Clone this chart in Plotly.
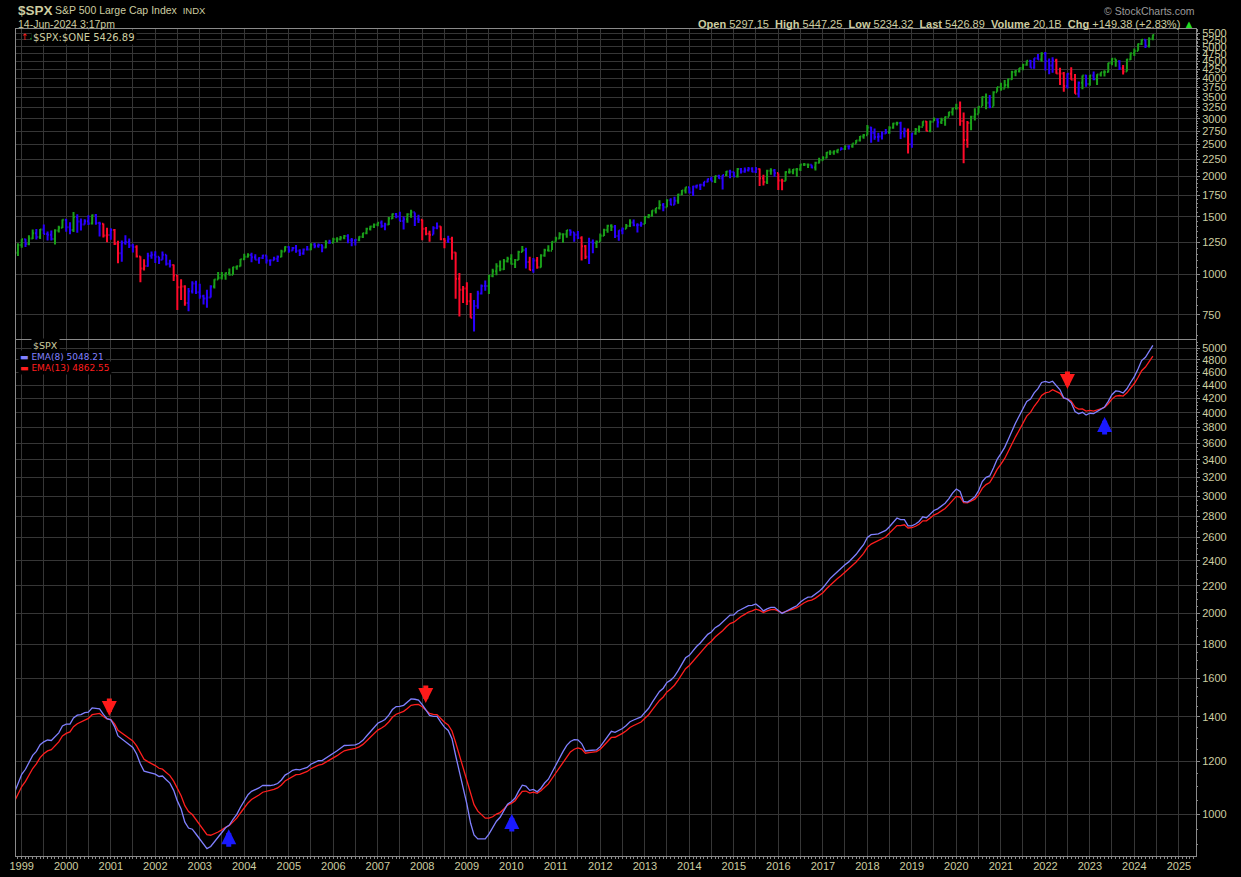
import numpy as np
import pandas as pd
import plotly.graph_objects as go

# ---------------- data (monthly S&P 500) ----------------
start_month = "1998-12-01"
warmup_start = "1996-01-01"
# closes before the visible window, only used to seed the moving averages
warmup_close = [636.0, 640.4, 645.5, 654.2, 669.1, 670.6, 640.0, 652.0, 687.3, 705.3, 757.0, 740.7,
                786.2, 790.8, 757.1, 801.3, 848.3, 885.1, 954.3, 899.5, 947.3, 914.6, 955.4, 970.4,
                980.3, 1049.3, 1101.8, 1111.8, 1090.8, 1133.8, 1120.7, 957.3, 1017.0, 1098.7, 1163.6]

open_ = [1163.6,
         1229.2, 1279.6, 1238.3, 1286.4, 1335.2, 1301.8, 1372.7, 1328.7, 1320.4, 1282.7, 1362.9, 1388.9,
         1469.3, 1394.5, 1366.4, 1498.6, 1452.4, 1420.6, 1454.6, 1430.8, 1517.7, 1436.5, 1429.4, 1315.2,
         1320.3, 1366.0, 1239.9, 1160.3, 1249.5, 1255.8, 1224.4, 1211.2, 1133.6, 1040.9, 1059.8, 1139.5,
         1148.1, 1130.2, 1106.7, 1147.4, 1076.9, 1067.1, 989.8, 911.6, 916.1, 815.3, 885.8, 936.3,
         879.8, 855.7, 841.2, 848.2, 916.9, 963.6, 974.5, 990.3, 1008.0, 996.0, 1050.7, 1058.2,
         1111.9, 1131.1, 1144.9, 1126.2, 1107.3, 1120.7, 1140.8, 1101.7, 1104.2, 1114.6, 1130.2, 1173.8,
         1211.9, 1181.3, 1203.6, 1180.6, 1156.9, 1191.5, 1191.3, 1234.2, 1220.3, 1228.8, 1207.0, 1249.5,
         1248.3, 1280.1, 1280.7, 1294.9, 1310.6, 1270.1, 1270.2, 1276.7, 1303.8, 1335.9, 1377.9, 1400.6,
         1418.3, 1438.2, 1406.8, 1420.9, 1482.4, 1530.6, 1503.4, 1455.3, 1474.0, 1526.8, 1549.4, 1481.1,
         1468.4, 1378.6, 1330.6, 1322.7, 1385.6, 1400.4, 1280.0, 1267.4, 1282.8, 1166.4, 968.8, 896.2,
         903.3, 825.9, 735.1, 797.9, 872.8, 919.1, 919.3, 987.5, 1020.6, 1057.1, 1036.2, 1095.6,
         1115.1, 1073.9, 1104.5, 1169.4, 1186.7, 1089.4, 1030.7, 1101.6, 1049.3, 1141.2, 1183.3, 1180.6,
         1257.6, 1286.1, 1327.2, 1325.8, 1363.6, 1345.2, 1320.6, 1292.3, 1218.9, 1131.4, 1253.3, 1247.0,
         1257.6, 1312.4, 1365.7, 1408.5, 1397.9, 1310.3, 1362.2, 1379.3, 1406.6, 1440.7, 1412.2, 1416.2,
         1426.2, 1498.1, 1514.7, 1569.2, 1597.6, 1630.7, 1606.3, 1685.7, 1633.0, 1681.6, 1756.5, 1805.8,
         1848.4, 1782.6, 1859.5, 1872.3, 1884.0, 1923.6, 1960.2, 1930.7, 2003.4, 1972.3, 2018.1, 2067.6,
         2058.9, 1995.0, 2104.5, 2067.9, 2085.5, 2107.4, 2063.1, 2103.8, 1972.2, 1920.0, 2079.4, 2080.4,
         2043.9, 1940.2, 1932.2, 2059.7, 2065.3, 2097.0, 2098.9, 2173.6, 2171.0, 2168.3, 2126.2, 2198.8,
         2238.8, 2278.9, 2363.6, 2362.7, 2384.2, 2411.8, 2423.4, 2470.3, 2471.7, 2519.4, 2575.3, 2647.6,
         2673.6, 2823.8, 2713.8, 2640.9, 2648.1, 2705.3, 2718.4, 2816.3, 2901.5, 2914.0, 2711.7, 2760.2,
         2506.9, 2704.1, 2784.5, 2834.4, 2945.8, 2752.1, 2941.8, 2980.4, 2926.5, 2976.7, 3037.6, 3141.0,
         3230.8, 3225.5, 2954.2, 2584.6, 2912.4, 3044.3, 3100.3, 3271.1, 3500.3, 3363.0, 3270.0, 3621.6,
         3756.1, 3714.2, 3811.2, 3972.9, 4181.2, 4204.1, 4297.5, 4395.3, 4522.7, 4307.5, 4605.4, 4567.0,
         4766.2, 4515.6, 4373.9, 4530.4, 4131.9, 4132.2, 3785.4, 4130.3, 3955.0, 3585.6, 3872.0, 4080.1,
         3839.5, 4076.6, 3970.2, 4109.3, 4169.5, 4179.8, 4450.4, 4589.0, 4507.7, 4288.1, 4193.8, 4567.8,
         4769.8, 4845.7, 5096.3, 5254.4, 5035.7, 5297.15]

high = [1244.9,
        1281.0, 1283.8, 1316.2, 1371.6, 1376.0, 1375.8, 1420.3, 1352.0, 1361.3, 1373.2, 1408.0, 1473.1,
        1478.0, 1444.6, 1552.9, 1527.2, 1481.5, 1474.6, 1517.3, 1525.2, 1530.1, 1449.0, 1431.8, 1389.1,
        1383.4, 1376.4, 1267.4, 1269.3, 1315.9, 1286.6, 1239.8, 1226.3, 1135.5, 1110.6, 1163.4, 1173.0,
        1176.6, 1131.3, 1173.0, 1147.8, 1106.6, 1070.7, 994.5, 965.0, 924.0, 907.4, 951.6, 954.3,
        935.1, 864.6, 895.9, 924.2, 965.4, 1015.3, 1015.4, 1011.0, 1040.3, 1053.8, 1063.6, 1112.6,
        1155.4, 1159.0, 1163.2, 1150.6, 1127.7, 1146.3, 1140.8, 1108.6, 1131.5, 1142.1, 1188.5, 1217.9,
        1217.8, 1212.4, 1229.1, 1191.9, 1199.6, 1219.6, 1245.2, 1245.9, 1243.1, 1233.3, 1270.6, 1275.8,
        1294.9, 1297.6, 1310.9, 1318.2, 1326.7, 1290.7, 1280.4, 1306.7, 1340.3, 1389.5, 1407.9, 1431.8,
        1441.6, 1461.6, 1438.9, 1498.0, 1535.6, 1540.6, 1555.9, 1503.9, 1538.7, 1576.1, 1545.8, 1523.6,
        1471.8, 1396.0, 1359.7, 1404.6, 1440.2, 1404.1, 1292.2, 1313.2, 1303.0, 1167.0, 1007.5, 918.9,
        943.9, 875.0, 833.0, 888.7, 930.2, 956.2, 996.7, 1039.5, 1080.2, 1101.4, 1113.7, 1130.4,
        1150.5, 1112.4, 1180.2, 1219.8, 1205.1, 1131.2, 1121.0, 1129.2, 1150.3, 1196.1, 1227.1, 1262.6,
        1302.7, 1344.1, 1332.3, 1366.6, 1370.6, 1345.2, 1356.5, 1307.4, 1229.3, 1292.7, 1277.6, 1269.4,
        1333.5, 1378.0, 1419.2, 1422.4, 1415.3, 1363.5, 1391.7, 1426.7, 1474.5, 1471.0, 1434.3, 1448.0,
        1509.9, 1530.9, 1570.3, 1597.6, 1687.2, 1654.2, 1698.8, 1709.7, 1729.9, 1765.0, 1813.6, 1849.4,
        1850.8, 1867.9, 1884.0, 1897.3, 1924.0, 1968.2, 1991.4, 2005.0, 2019.3, 2018.2, 2075.8, 2093.6,
        2064.4, 2119.6, 2117.5, 2125.9, 2134.7, 2129.9, 2132.8, 2112.7, 2020.9, 2094.3, 2116.5, 2104.3,
        2038.2, 1963.0, 2072.2, 2111.1, 2103.5, 2120.6, 2177.1, 2193.8, 2187.9, 2169.6, 2214.1, 2277.5,
        2301.0, 2371.5, 2401.0, 2398.2, 2418.7, 2453.8, 2484.0, 2490.9, 2519.4, 2583.0, 2657.7, 2695.0,
        2872.9, 2836.0, 2801.9, 2717.5, 2742.2, 2791.5, 2848.0, 2916.5, 2940.9, 2939.9, 2815.2, 2800.2,
        2709.0, 2813.5, 2860.3, 2949.5, 2954.1, 2964.2, 3028.0, 3013.6, 3022.0, 3050.1, 3154.3, 3247.9,
        3337.8, 3393.5, 3136.7, 2954.9, 3068.7, 3233.1, 3280.0, 3514.8, 3588.1, 3549.9, 3646.0, 3760.2,
        3870.9, 3950.4, 3994.4, 4218.8, 4238.0, 4302.4, 4430.0, 4537.4, 4545.9, 4608.1, 4743.8, 4808.9,
        4818.6, 4595.3, 4637.3, 4593.5, 4307.7, 4177.5, 4140.2, 4325.3, 4119.3, 3905.4, 4080.1, 4101.0,
        4094.2, 4195.4, 4110.8, 4170.1, 4231.1, 4458.5, 4607.1, 4584.6, 4541.3, 4393.6, 4587.6, 4793.3,
        4931.1, 5111.1, 5264.9, 5264.0, 5341.9, 5447.25]

low = [1136.9,
       1205.5, 1211.9, 1226.2, 1282.6, 1277.3, 1281.4, 1328.5, 1268.0, 1268.4, 1233.7, 1343.1, 1387.4,
       1350.1, 1325.1, 1346.6, 1339.4, 1361.1, 1420.4, 1416.0, 1421.7, 1419.4, 1305.8, 1296.0, 1254.1,
       1274.6, 1228.9, 1081.2, 1092.0, 1232.0, 1203.0, 1165.5, 1124.9, 944.8, 1026.8, 1054.3, 1114.9,
       1081.7, 1074.4, 1106.7, 1063.5, 1049.0, 952.9, 775.7, 833.4, 800.2, 768.6, 872.1, 869.5,
       840.3, 806.3, 788.9, 847.9, 902.8, 963.4, 962.1, 960.8, 990.4, 995.0, 1031.2, 1055.5,
       1105.1, 1124.4, 1087.2, 1107.2, 1076.3, 1113.3, 1078.8, 1060.7, 1101.3, 1090.2, 1127.6, 1173.4,
       1163.8, 1181.0, 1163.7, 1136.2, 1146.2, 1188.3, 1183.6, 1201.1, 1205.4, 1168.2, 1201.1, 1246.6,
       1245.7, 1253.6, 1268.4, 1280.7, 1245.3, 1219.3, 1224.5, 1261.3, 1290.9, 1327.1, 1361.0, 1385.9,
       1404.0, 1389.4, 1364.0, 1416.4, 1476.7, 1484.2, 1454.3, 1370.6, 1439.3, 1489.6, 1406.1, 1435.7,
       1270.1, 1316.8, 1257.0, 1324.4, 1373.1, 1272.0, 1200.4, 1247.5, 1106.4, 839.8, 741.0, 815.7,
       804.3, 734.5, 666.8, 783.3, 866.1, 888.9, 869.3, 978.5, 992.3, 1020.2, 1029.4, 1085.9,
       1071.6, 1044.5, 1105.4, 1170.7, 1040.8, 1028.3, 1010.9, 1039.7, 1047.6, 1131.9, 1173.0, 1186.6,
       1257.6, 1282.9, 1249.1, 1294.7, 1311.8, 1258.1, 1282.9, 1101.5, 1114.2, 1074.8, 1158.7, 1202.4,
       1258.9, 1310.5, 1340.0, 1357.4, 1292.0, 1266.7, 1325.4, 1378.5, 1396.6, 1403.3, 1343.4, 1398.1,
       1426.2, 1485.0, 1501.5, 1536.0, 1581.3, 1560.3, 1604.6, 1627.5, 1633.4, 1646.5, 1746.2, 1768.0,
       1770.5, 1737.9, 1834.4, 1814.4, 1859.8, 1916.0, 1930.7, 1904.8, 1964.0, 1820.7, 2001.0, 1972.6,
       1988.1, 1980.9, 2039.7, 2048.4, 2067.9, 2056.3, 2044.0, 1867.0, 1871.9, 1893.7, 2019.4, 1993.3,
       1812.3, 1810.1, 1937.1, 2033.8, 2025.9, 1991.7, 2074.0, 2147.6, 2119.1, 2114.7, 2083.8, 2187.4,
       2233.6, 2271.7, 2322.3, 2329.0, 2352.7, 2405.7, 2407.7, 2417.4, 2446.6, 2520.4, 2557.5, 2605.5,
       2682.4, 2532.7, 2585.9, 2553.8, 2594.6, 2698.7, 2699.0, 2796.3, 2864.1, 2603.5, 2631.1, 2346.6,
       2444.0, 2681.8, 2722.3, 2848.6, 2750.5, 2728.8, 2952.2, 2822.1, 2891.9, 2855.9, 3050.7, 3070.3,
       3214.6, 2855.8, 2191.9, 2447.5, 2766.6, 2965.7, 3115.0, 3284.5, 3209.5, 3233.9, 3279.7, 3633.4,
       3662.7, 3725.6, 3723.3, 3955.3, 4056.9, 4164.4, 4233.1, 4367.7, 4305.9, 4278.9, 4560.0, 4495.1,
       4222.6, 4114.7, 4157.9, 4124.3, 3810.3, 3636.9, 3721.6, 3954.5, 3584.1, 3491.6, 3698.2, 3764.5,
       3794.3, 3943.1, 3808.9, 4049.3, 4048.3, 4166.2, 4385.1, 4335.3, 4238.6, 4103.8, 4197.7, 4546.5,
       4682.1, 4853.4, 5056.8, 4953.6, 4967.9, 5234.32]

close = [1229.2,
         1279.6, 1238.3, 1286.4, 1335.2, 1301.8, 1372.7, 1328.7, 1320.4, 1282.7, 1362.9, 1388.9, 1469.3,
         1394.5, 1366.4, 1498.6, 1452.4, 1420.6, 1454.6, 1430.8, 1517.7, 1436.5, 1429.4, 1315.2, 1320.3,
         1366.0, 1239.9, 1160.3, 1249.5, 1255.8, 1224.4, 1211.2, 1133.6, 1040.9, 1059.8, 1139.5, 1148.1,
         1130.2, 1106.7, 1147.4, 1076.9, 1067.1, 989.8, 911.6, 916.1, 815.3, 885.8, 936.3, 879.8,
         855.7, 841.2, 848.2, 916.9, 963.6, 974.5, 990.3, 1008.0, 996.0, 1050.7, 1058.2, 1111.9,
         1131.1, 1144.9, 1126.2, 1107.3, 1120.7, 1140.8, 1101.7, 1104.2, 1114.6, 1130.2, 1173.8, 1211.9,
         1181.3, 1203.6, 1180.6, 1156.9, 1191.5, 1191.3, 1234.2, 1220.3, 1228.8, 1207.0, 1249.5, 1248.3,
         1280.1, 1280.7, 1294.9, 1310.6, 1270.1, 1270.2, 1276.7, 1303.8, 1335.9, 1377.9, 1400.6, 1418.3,
         1438.2, 1406.8, 1420.9, 1482.4, 1530.6, 1503.4, 1455.3, 1474.0, 1526.8, 1549.4, 1481.1, 1468.4,
         1378.6, 1330.6, 1322.7, 1385.6, 1400.4, 1280.0, 1267.4, 1282.8, 1166.4, 968.8, 896.2, 903.3,
         825.9, 735.1, 797.9, 872.8, 919.1, 919.3, 987.5, 1020.6, 1057.1, 1036.2, 1095.6, 1115.1,
         1073.9, 1104.5, 1169.4, 1186.7, 1089.4, 1030.7, 1101.6, 1049.3, 1141.2, 1183.3, 1180.6, 1257.6,
         1286.1, 1327.2, 1325.8, 1363.6, 1345.2, 1320.6, 1292.3, 1218.9, 1131.4, 1253.3, 1247.0, 1257.6,
         1312.4, 1365.7, 1408.5, 1397.9, 1310.3, 1362.2, 1379.3, 1406.6, 1440.7, 1412.2, 1416.2, 1426.2,
         1498.1, 1514.7, 1569.2, 1597.6, 1630.7, 1606.3, 1685.7, 1633.0, 1681.6, 1756.5, 1805.8, 1848.4,
         1782.6, 1859.5, 1872.3, 1884.0, 1923.6, 1960.2, 1930.7, 2003.4, 1972.3, 2018.1, 2067.6, 2058.9,
         1995.0, 2104.5, 2067.9, 2085.5, 2107.4, 2063.1, 2103.8, 1972.2, 1920.0, 2079.4, 2080.4, 2043.9,
         1940.2, 1932.2, 2059.7, 2065.3, 2097.0, 2098.9, 2173.6, 2171.0, 2168.3, 2126.2, 2198.8, 2238.8,
         2278.9, 2363.6, 2362.7, 2384.2, 2411.8, 2423.4, 2470.3, 2471.7, 2519.4, 2575.3, 2647.6, 2673.6,
         2823.8, 2713.8, 2640.9, 2648.1, 2705.3, 2718.4, 2816.3, 2901.5, 2914.0, 2711.7, 2760.2, 2506.9,
         2704.1, 2784.5, 2834.4, 2945.8, 2752.1, 2941.8, 2980.4, 2926.5, 2976.7, 3037.6, 3141.0, 3230.8,
         3225.5, 2954.2, 2584.6, 2912.4, 3044.3, 3100.3, 3271.1, 3500.3, 3363.0, 3270.0, 3621.6, 3756.1,
         3714.2, 3811.2, 3972.9, 4181.2, 4204.1, 4297.5, 4395.3, 4522.7, 4307.5, 4605.4, 4567.0, 4766.2,
         4515.6, 4373.9, 4530.4, 4131.9, 4132.2, 3785.4, 4130.3, 3955.0, 3585.6, 3872.0, 4080.1, 3839.5,
         4076.6, 3970.2, 4109.3, 4169.5, 4179.8, 4450.4, 4589.0, 4507.7, 4288.1, 4193.8, 4567.8, 4769.8,
         4845.7, 5096.3, 5254.4, 5035.7, 5277.5, 5426.89]

year_labels = [str(y) for y in range(1999, 2026)]
top_ticks = list(range(750, 5501, 250))
bottom_ticks = list(range(1000, 5001, 200))

arrow_down_dates = ["2000-12-20", "2008-01-30", "2022-07-01"]
arrow_down_prices = [1404, 1469, 4341]
arrow_up_dates = ["2003-08-27", "2010-01-05", "2023-05-02"]
arrow_up_prices = [950, 1001, 3942]

# ---------------- derived ----------------
months = pd.date_range(start_month, periods=len(close), freq="MS")
full = pd.Series(warmup_close + close, dtype=float)
full_x = pd.date_range(warmup_start, periods=len(full), freq="MS")
n0 = len(warmup_close)

ema8 = full.ewm(span=8, adjust=False).mean()
ema13 = full.ewm(span=13, adjust=False).mean()
macd = full.ewm(span=12, adjust=False).mean() - full.ewm(span=26, adjust=False).mean()
hist = macd - macd.ewm(span=9, adjust=False).mean()
d_ema = ema13.diff().values[n0:]
d_hist = hist.diff().values[n0:]
impulse = np.where((d_ema > 0) & (d_hist > 0), "g",
                   np.where((d_ema < 0) & (d_hist < 0), "r", "b"))

BG = "#000000"
GRID = "#363636"
BORDER = "#8a8a8a"
TXT = "#cdcda0"
GREEN = "#1aa01a"
BLUE = "#2a00ff"
RED = "#ff0a2a"
EMA8C = "#8080ff"
EMA13C = "#ff1e1e"
FONT = "Liberation Sans"

fig = go.Figure()

o = np.array(open_); h = np.array(high); l = np.array(low); c = np.array(close)
for key, col in (("b", BLUE), ("r", RED), ("g", GREEN)):
    m = impulse == key
    fig.add_trace(go.Ohlc(
        x=months[m], open=o[m], high=h[m], low=l[m], close=c[m],
        increasing=dict(line=dict(color=col, width=2)),
        decreasing=dict(line=dict(color=col, width=2)),
        tickwidth=0.4, xaxis="x", yaxis="y", showlegend=False, hoverinfo="skip"))

fig.add_trace(go.Scatter(x=full_x[n0 - 1:], y=ema13.values[n0 - 1:], mode="lines",
                         line=dict(color=EMA13C, width=1.3), xaxis="x2", yaxis="y2",
                         showlegend=False, hoverinfo="skip"))
fig.add_trace(go.Scatter(x=full_x[n0 - 1:], y=ema8.values[n0 - 1:], mode="lines",
                         line=dict(color=EMA8C, width=1.3), xaxis="x2", yaxis="y2",
                         showlegend=False, hoverinfo="skip"))

x_range = ["1998-11-15", "2025-05-21"]
grid_dates = []
grid_text = []
for y in year_labels:
    grid_dates += [f"{y}-01-01", f"{y}-07-01"]
    grid_text += [y, ""]

common_x = dict(type="date", range=x_range, tickmode="array", tickvals=grid_dates,
                showgrid=True, gridcolor=GRID, gridwidth=1, showline=True, linecolor=BORDER,
                mirror=True, zeroline=False, ticks="", fixedrange=True, automargin=False)

fig.update_layout(
    template="none",
    width=1241, height=877,
    paper_bgcolor=BG, plot_bgcolor=BG,
    margin=dict(l=16, r=45, t=29, b=0, autoexpand=False),
    font=dict(family=FONT, size=11, color=TXT),
    xaxis=dict(**common_x, anchor="y", showticklabels=False, rangeslider=dict(visible=False)),
    xaxis2=dict(**common_x, anchor="y2", ticktext=grid_text, showticklabels=True,
                tickfont=dict(family=FONT, size=11, color=TXT),
                minor=dict(tickmode="linear", tick0="1999-01-01", dtick="M1", ticks="outside",
                           ticklen=2, tickcolor=BORDER, showgrid=False)),
    xaxis3=dict(**common_x, anchor="y3", showticklabels=False),
    yaxis=dict(domain=[0.6344, 1.0], type="log", range=[np.log10(632), np.log10(5665)],
               side="right", tickmode="array", tickvals=top_ticks, automargin=False,
               ticktext=[str(v) for v in top_ticks], showgrid=True, gridcolor=GRID,
               showline=True, linecolor=BORDER, mirror=True, zeroline=False,
               ticks="outside", ticklen=3, tickcolor=BORDER,
               tickfont=dict(family=FONT, size=11, color=TXT), fixedrange=True,
               minor=dict(tickvals=list(range(650, 5700, 50)), ticks="outside", ticklen=1,
                          tickcolor=BORDER, showgrid=False)),
    yaxis2=dict(domain=[0.0248, 0.6333], type="log", range=[np.log10(866), np.log10(5142)],
                side="right", tickmode="array", tickvals=bottom_ticks, automargin=False,
                ticktext=[str(v) for v in bottom_ticks], showgrid=True, gridcolor=GRID,
                showline=True, linecolor=BORDER, mirror=True, zeroline=False,
                ticks="outside", ticklen=3, tickcolor=BORDER,
                tickfont=dict(family=FONT, size=11, color=TXT), fixedrange=True,
                minor=dict(tickvals=list(range(900, 5150, 50)), ticks="outside", ticklen=1,
                           tickcolor=BORDER, showgrid=False)),
    yaxis3=dict(domain=[0.0, 0.0083], range=[0, 100], showgrid=False, showline=True,
                linecolor=BORDER, mirror=True, zeroline=False, showticklabels=False,
                side="right", fixedrange=True, automargin=False),
)

ann = []
# header
ann.append(dict(xref="paper", yref="paper", x=0.0, y=1.0, yshift=19, xshift=0,
                xanchor="left", yanchor="middle", showarrow=False,
                text="<b>$SPX</b>", font=dict(family=FONT, size=13.5, color=TXT)))
ann.append(dict(xref="paper", yref="paper", x=0.0, y=1.0, yshift=19, xshift=37,
                xanchor="left", yanchor="middle", showarrow=False,
                text="S&amp;P 500 Large Cap Index&nbsp; <span style='font-size:9.5px'>INDX</span>",
                font=dict(family=FONT, size=10.5, color=TXT)))
ann.append(dict(xref="paper", yref="paper", x=0.0, y=1.0, yshift=5.5, xshift=0,
                xanchor="left", yanchor="middle", showarrow=False,
                text="14-Jun-2024 3:17pm", font=dict(family=FONT, size=10.5, color=TXT)))
ann.append(dict(xref="paper", yref="paper", x=1.0, y=1.0, yshift=18, xshift=1,
                xanchor="right", yanchor="middle", showarrow=False,
                text="© StockCharts.com", font=dict(family=FONT, size=10.5, color="#9a9a9a")))
ann.append(dict(xref="paper", yref="paper", x=1.0, y=1.0, yshift=5.5, xshift=0,
                xanchor="right", yanchor="middle", showarrow=False,
                text=("<b>Open</b> 5297.15&nbsp; <b>High</b> 5447.25&nbsp; <b>Low</b> 5234.32&nbsp; "
                      "<b>Last</b> 5426.89&nbsp; <b>Volume</b> 20.1B&nbsp; <b>Chg</b> +149.38 (+2.83%) "
                      "<span style='color:#22dd22'>▲</span>"),
                font=dict(family=FONT, size=11, color=TXT)))
# top panel legend
ann.append(dict(xref="paper", yref="paper", x=0.0, y=1.0, xshift=3, yshift=-8,
                xanchor="left", yanchor="middle", showarrow=False,
                text="<span style='color:#ff2020'>↑</span><span style='color:#22cc22'>↓</span>",
                font=dict(family="DejaVu Sans", size=9, color=TXT)))
ann.append(dict(xref="paper", yref="paper", x=0.0, y=1.0, xshift=15, yshift=-8,
                xanchor="left", yanchor="middle", showarrow=False, bgcolor=BG,
                text="$SPX:$ONE 5426.89", font=dict(family="DejaVu Sans", size=10, color=TXT)))
# bottom panel legend
ann.append(dict(xref="paper", yref="y2 domain", x=0.0, y=1.0, xshift=15, yshift=-6,
                xanchor="left", yanchor="middle", showarrow=False, bgcolor=BG,
                text="$SPX", font=dict(family="DejaVu Sans", size=9.5, color=TXT)))
ann.append(dict(xref="paper", yref="y2 domain", x=0.0, y=1.0, xshift=2, yshift=-17,
                xanchor="left", yanchor="middle", showarrow=False, bgcolor=BG,
                text="<span style='color:%s'>▬</span> EMA(8) 5048.21" % EMA8C,
                font=dict(family="DejaVu Sans", size=9, color=EMA8C)))
ann.append(dict(xref="paper", yref="y2 domain", x=0.0, y=1.0, xshift=2, yshift=-28,
                xanchor="left", yanchor="middle", showarrow=False, bgcolor=BG,
                text="<span style='color:%s'>▬</span> EMA(13) 4862.55" % EMA13C,
                font=dict(family="DejaVu Sans", size=9, color=EMA13C)))
# third panel legend (cut off at the bottom of the page)
ann.append(dict(xref="paper", yref="paper", x=0.0, y=0.0, xshift=2, yshift=-4,
                xanchor="left", yanchor="top", showarrow=False,
                text=("<span style='color:#22cc22'>▬</span> Slow STO %K(14) %D(3) "
                      "<span style='color:#22cc22'>93.61</span>, <span style='color:#ff2020'>92.30</span>"),
                font=dict(family="DejaVu Sans", size=10, color="#d0d0d0")))
# arrows
for d, p in zip(arrow_down_dates, arrow_down_prices):
    ann.append(dict(xref="x2", yref="y2", x=d, y=np.log10(p), ax=0, ay=-19, text="",
                    showarrow=True, arrowhead=2, arrowsize=0.6, arrowwidth=5,
                    arrowcolor="#ff1a1a"))
for d, p in zip(arrow_up_dates, arrow_up_prices):
    ann.append(dict(xref="x2", yref="y2", x=d, y=np.log10(p), ax=0, ay=19, text="",
                    showarrow=True, arrowhead=2, arrowsize=0.6, arrowwidth=5,
                    arrowcolor="#1a1aff"))
fig.update_layout(annotations=ann)

# remove the browser's default 8px page margin so the figure fills the window exactly
fig.write_html("out.html", config={"displayModeBar": False, "staticPlot": True},
               post_script="document.body.style.margin='0';document.body.style.background='#000';")
